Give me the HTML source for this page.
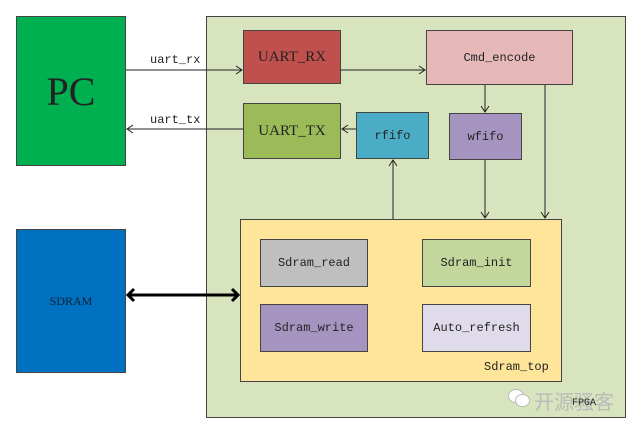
<!DOCTYPE html>
<html><head><meta charset="utf-8"><style>
body{margin:0;width:640px;height:430px;background:#fff;position:relative;overflow:hidden;font-family:"Liberation Mono",monospace;}
.b{position:absolute;box-sizing:border-box;border:1.5px solid #444;display:flex;align-items:center;justify-content:center;font-size:12px;color:#222;}
.t{position:absolute;font-size:12px;color:#222;}
</style></head><body>
<div class="b" style="left:206px;top:16px;width:420px;height:402px;background:#d7e4bd;"></div>
<div class="b" style="left:16px;top:16px;width:110px;height:150px;background:#00b050;font-family:'Liberation Serif',serif;font-size:40px;">PC</div>
<div class="b" style="left:16px;top:229px;width:110px;height:144px;background:#0070c0;font-family:'Liberation Serif',serif;font-size:12px;color:#123;">SDRAM</div>
<div class="b" style="left:243px;top:30px;width:98px;height:54px;background:#c0504d;font-family:'Liberation Serif',serif;font-size:15px;">UART_RX</div>
<div class="b" style="left:426px;top:30px;width:147px;height:55px;background:#e6b9b8;">Cmd_encode</div>
<div class="b" style="left:243px;top:103px;width:98px;height:56px;background:#9bbb59;font-family:'Liberation Serif',serif;font-size:15px;">UART_TX</div>
<div class="b" style="left:356px;top:112px;width:73px;height:47px;background:#4bacc6;">rfifo</div>
<div class="b" style="left:449px;top:113px;width:73px;height:47px;background:#a694c0;">wfifo</div>
<div class="b" style="left:240px;top:219px;width:322px;height:163px;background:#fee599;"></div>
<div class="b" style="left:260px;top:239px;width:108px;height:48px;background:#bfbfbf;">Sdram_read</div>
<div class="b" style="left:422px;top:239px;width:109px;height:48px;background:#c3d69b;">Sdram_init</div>
<div class="b" style="left:260px;top:304px;width:108px;height:48px;background:#a694c0;">Sdram_write</div>
<div class="b" style="left:422px;top:304px;width:109px;height:48px;background:#e0dbea;">Auto_refresh</div>
<div class="t" style="left:484px;top:360px;">Sdram_top</div>
<div class="t" style="left:150px;top:53px;">uart_rx</div>
<div class="t" style="left:150px;top:113px;">uart_tx</div>
<div style="position:absolute;left:508px;top:389px;width:22px;height:18px;">
<div style="position:absolute;left:0;top:0;width:14px;height:12px;border-radius:50%;border:1.5px solid #bbb;background:#fff;"></div>
<div style="position:absolute;left:7px;top:5px;width:13px;height:11px;border-radius:50%;border:1.5px solid #bbb;background:#fff;"></div>
</div>
<div class="t" style="left:534px;top:386px;font-family:'Liberation Sans','Noto Sans CJK SC',sans-serif;font-size:20px;color:#bbb;">开源骚客</div>
<div class="t" style="left:572px;top:398px;font-size:10px;">FPGA</div>
<svg style="position:absolute;left:0;top:0" width="640" height="430">
<g stroke="#222" stroke-width="1" fill="none">
<path d="M126 70H242M236 66l6 4-6 4"/>
<path d="M341 70H425M419 66l6 4-6 4"/>
<path d="M243 129H127M133 125l-6 4 6 4"/>
<path d="M356 129H342M348 125l-6 4 6 4"/>
<path d="M485 85V112M481 106l4 6 4-6"/>
<path d="M545 85V218M541 212l4 6 4-6"/>
<path d="M485 160V218M481 212l4 6 4-6"/>
<path d="M393 219V160M389 166l4-6 4 6"/>
</g>
<g stroke="#000" stroke-width="3" fill="none">
<path d="M128 295H238M134 289l-6 6 6 6M232 289l6 6-6 6"/>
</g>
</svg>
</body></html>
